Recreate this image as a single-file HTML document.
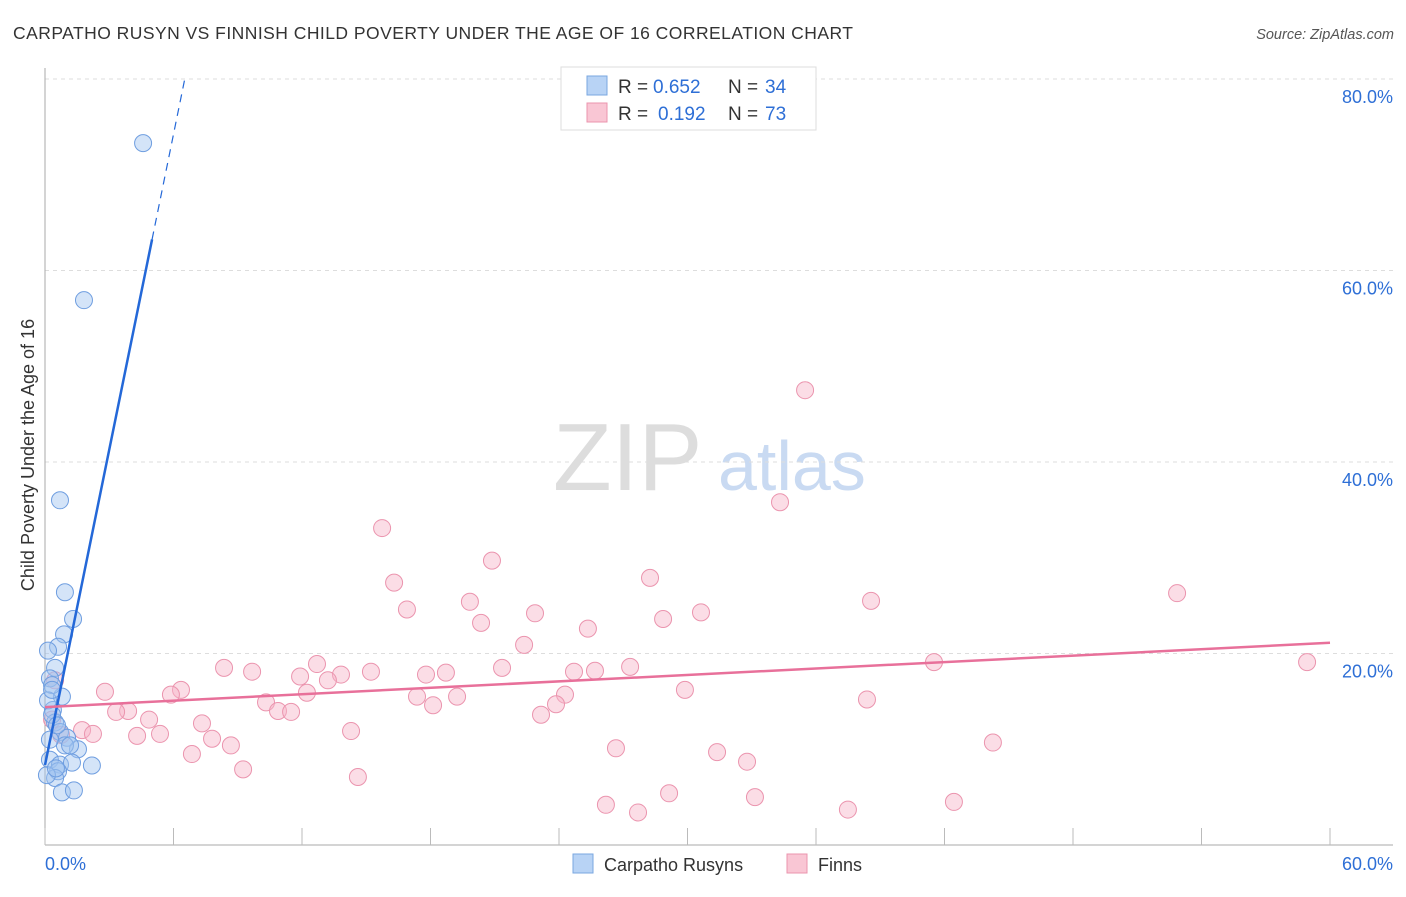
<!DOCTYPE html>
<html><head><meta charset="utf-8"><style>
body{margin:0;background:#fff;font-family:"Liberation Sans",sans-serif}
svg text{font-family:"Liberation Sans",sans-serif}
</style></head><body>
<svg id="c" width="1406" height="892">
<text x="13" y="39" font-size="17.5" fill="#333" textLength="840" lengthAdjust="spacing">CARPATHO RUSYN VS FINNISH CHILD POVERTY UNDER THE AGE OF 16 CORRELATION CHART</text>
<text x="1394" y="39" font-size="14.5" fill="#555" text-anchor="end" font-style="italic">Source: ZipAtlas.com</text>
<text x="34" y="455" font-size="18" fill="#333" text-anchor="middle" transform="rotate(-90 34 455)">Child Poverty Under the Age of 16</text>
<g><text x="553" y="490" font-size="96" fill="#ddd" font-family="Liberation Serif,serif">ZIP</text><text x="718" y="490" font-size="70" fill="#c9daf2">atlas</text></g>
<g id="grid"></g><g id="axes"></g><g id="pts"></g><g id="lines"></g>
<g>
<rect x="561" y="67" width="255" height="63" fill="#fff" stroke="#ddd"/>
<rect x="587" y="76" width="20" height="19" fill="#b8d3f5" stroke="#7aa7e0"/>
<rect x="587" y="103" width="20" height="19" fill="#f9c6d4" stroke="#eb94ae"/>
<text x="618" y="93" font-size="19" fill="#333">R =</text>
<text x="653" y="93" font-size="19" fill="#2e6fd6">0.652</text>
<text x="728" y="93" font-size="19" fill="#333">N =</text>
<text x="765" y="93" font-size="19" fill="#2e6fd6">34</text>
<text x="618" y="120" font-size="19" fill="#333">R =</text>
<text x="658" y="120" font-size="19" fill="#2e6fd6">0.192</text>
<text x="728" y="120" font-size="19" fill="#333">N =</text>
<text x="765" y="120" font-size="19" fill="#2e6fd6">73</text>
</g>
<g>
<rect x="573" y="854" width="20" height="19" fill="#b8d3f5" stroke="#7aa7e0"/>
<text x="604" y="871" font-size="18" fill="#333">Carpatho Rusyns</text>
<rect x="787" y="854" width="20" height="19" fill="#f9c6d4" stroke="#eb94ae"/>
<text x="818" y="871" font-size="18" fill="#333">Finns</text>
</g>
</svg>
<script>
const blueX=[4.58,1.82,0.70,0.93,1.31,0.89,0.61,0.14,0.47,0.23,0.79,0.33,0.37,0.47,0.70,1.03,1.54,0.93,0.23,0.70,2.19,1.26,0.61,0.47,0.79,1.35,0.23,0.14,0.33,0.09,0.51,1.17,0.56,0.33];
const blueY=[73.3,56.9,36.0,26.4,23.6,22.0,20.7,20.3,18.5,17.4,15.5,16.7,14.1,12.8,11.8,11.2,10.0,10.4,8.9,8.4,8.3,8.6,7.7,7.0,5.5,5.7,11.0,15.1,13.6,7.3,8.0,10.4,12.5,16.2];
const pinkX=[35.49,34.32,15.74,20.87,28.25,16.30,52.86,38.57,19.84,16.90,22.88,30.63,28.86,20.36,25.35,22.37,41.51,58.93,27.32,21.34,8.36,9.67,24.70,25.68,15.22,17.79,18.72,12.70,13.82,11.91,13.21,6.35,2.80,29.88,12.23,5.88,24.28,17.37,19.24,38.38,23.86,10.32,18.12,3.88,3.32,10.88,11.49,23.16,4.86,7.33,0.33,1.73,14.29,2.24,0.75,4.30,5.37,7.80,8.68,44.26,26.66,31.38,6.86,32.78,9.25,14.61,29.14,33.15,42.44,26.19,27.69,37.49,0.47];
const pinkY=[47.5,35.8,33.1,29.7,27.9,27.4,26.3,25.5,25.4,24.6,24.2,24.3,23.6,23.2,22.6,20.9,19.1,19.1,18.6,18.5,18.5,18.1,18.1,18.2,18.1,17.8,18.0,18.9,17.8,17.6,17.2,16.2,16.0,16.2,15.9,15.7,15.7,15.5,15.5,15.2,14.7,14.9,14.6,14.0,13.9,14.0,13.9,13.6,13.1,12.7,13.1,12.0,11.9,11.6,11.5,11.4,11.6,11.1,10.4,10.7,10.1,9.7,9.5,8.7,7.9,7.1,5.4,5.0,4.5,4.2,3.4,3.7,17.2];
const yTicks=[20,40,60,80];
const xTickLabels=["0.0%","60.0%"];
const blueTrend=[8.35,10.98];const pinkTrend=[14.4,0.112];
const X=v=>45+v/60*1285, Y=v=>845-v/80*766;
const NS="http://www.w3.org/2000/svg";
function mk(p,t,a){const e=document.createElementNS(NS,t);for(const k in a)e.setAttribute(k,a[k]);document.getElementById(p).appendChild(e);return e;}
yTicks.forEach(t=>{const l=mk('grid','line',{x1:45,x2:1393,y1:Y(t),y2:Y(t),stroke:'#ddd','stroke-dasharray':'4,4'});


const tx=mk('grid','text',{x:1393,y:Y(t)+24,'font-size':18,fill:'#2e6fd6','text-anchor':'end'});tx.textContent=t.toFixed(1)+'%';

});
mk('axes','line',{x1:45,x2:45,y1:68,y2:845,stroke:'#aaa'});
mk('axes','line',{x1:45,x2:1393,y1:845,y2:845,stroke:'#aaa'});
for(let i=0;i<=10;i++){const t=mk('axes','line',{x1:X(i*6),x2:X(i*6),y1:828,y2:845,stroke:'#bbb'});

}
const l0=mk('axes','text',{x:45,y:870,'font-size':18,fill:'#2e6fd6'});l0.textContent=xTickLabels[0];


const l1=mk('axes','text',{x:1393,y:870,'font-size':18,fill:'#2e6fd6','text-anchor':'end'});l1.textContent=xTickLabels[1];


pinkX.forEach((x,i)=>{const c=mk('pts','circle',{cx:X(x),cy:Y(pinkY[i]),r:8.5,fill:'rgba(247,180,200,0.45)',stroke:'#eb94ae','stroke-width':1});

});
blueX.forEach((x,i)=>{const c=mk('pts','circle',{cx:X(x),cy:Y(blueY[i]),r:8.5,fill:'rgba(160,195,240,0.45)',stroke:'#6f9ee0','stroke-width':1});

});
const bf=x=>blueTrend[0]+blueTrend[1]*x, pf=x=>pinkTrend[0]+pinkTrend[1]*x;
const b1=mk('lines','line',{x1:X(0),y1:Y(bf(0)),x2:X(5),y2:Y(bf(5)),stroke:'#2468d8','stroke-width':2.5});


const xe=(80-blueTrend[0])/blueTrend[1];
const b2=mk('lines','line',{x1:X(5),y1:Y(bf(5)),x2:X(xe),y2:Y(80),stroke:'#2468d8','stroke-width':1.2,'stroke-dasharray':'8,6'});


const p1=mk('lines','line',{x1:X(0),y1:Y(pf(0)),x2:X(60),y2:Y(pf(60)),stroke:'#e8709a','stroke-width':2.5});


</script>
</body></html>
